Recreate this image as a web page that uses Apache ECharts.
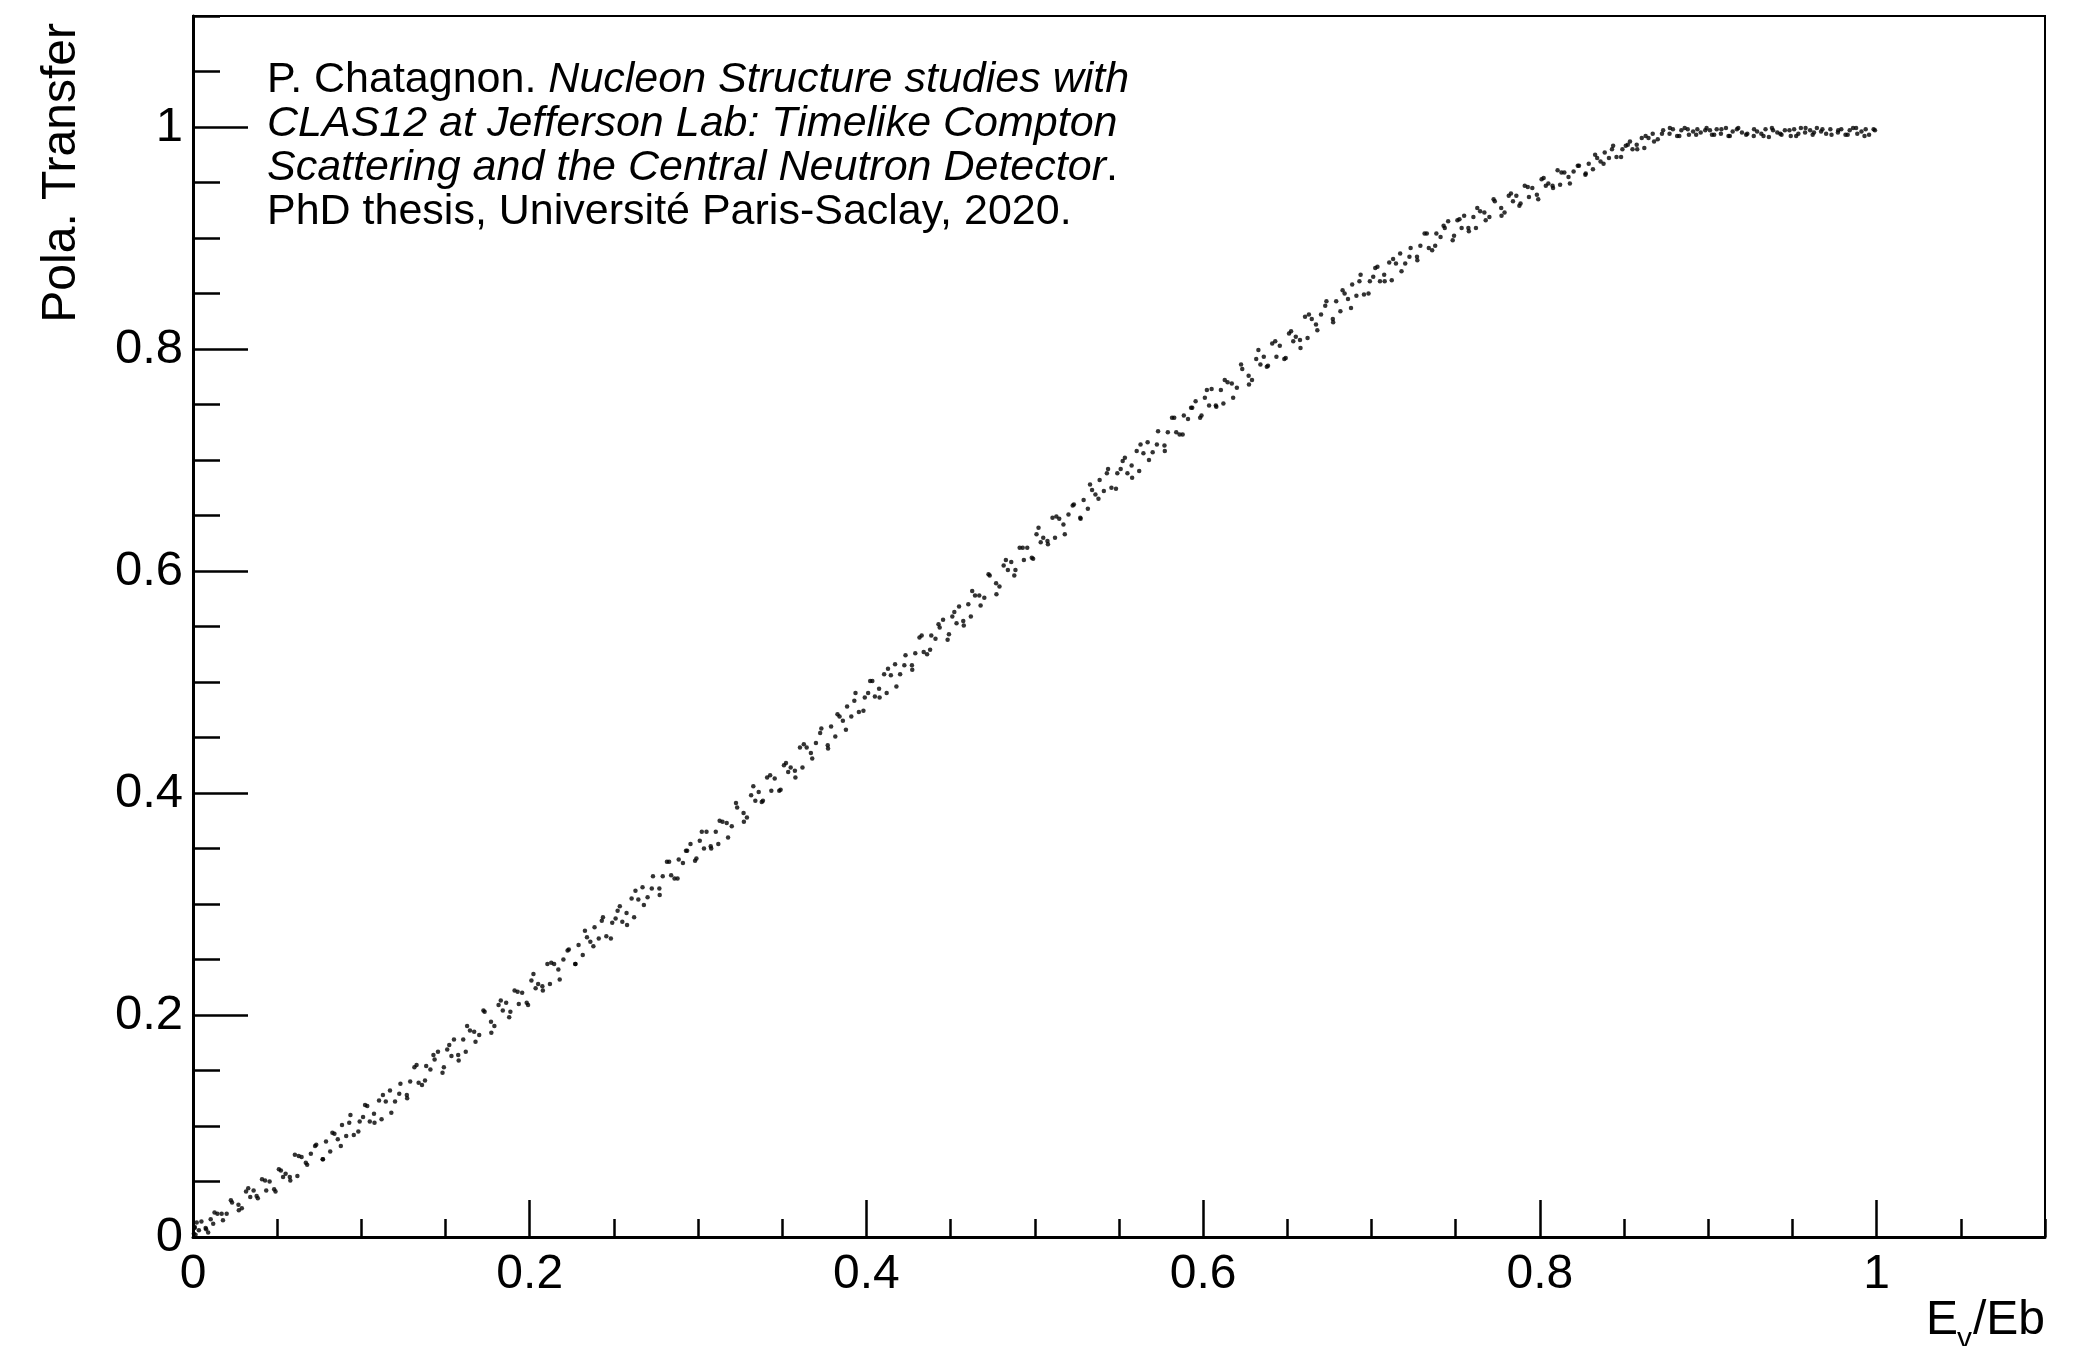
<!DOCTYPE html>
<html>
<head>
<meta charset="utf-8">
<title>Pola. Transfer vs Eγ/Eb</title>
<script src="https://cdn.jsdelivr.net/npm/echarts@6/dist/echarts.min.js"></script>
<style>
  html, body { margin: 0; padding: 0; background: #ffffff; }
  #chart { width: 2075px; height: 1346px; }
</style>
</head>
<body>
<div id="chart"></div>
<script>
// Photon energy fraction E_gamma / E_beam, first event sample
const ePhotonRatio = [
  0.0005, 0.001, 0.0015, 0.009,
  0.001, 0.0035, 0.005, 0.0075, 0.0105, 0.012, 0.0145, 0.017, 0.02, 0.0225,
  0.027, 0.029, 0.0315, 0.034, 0.036, 0.0385, 0.041, 0.0435, 0.0455, 0.049,
  0.051, 0.0535, 0.055, 0.0575, 0.0605, 0.062, 0.0645, 0.067, 0.07, 0.0725,
  0.077, 0.079, 0.0815, 0.084, 0.086, 0.0885, 0.091, 0.0935, 0.0955, 0.099,
  0.101, 0.1035, 0.105, 0.1075, 0.1105, 0.112, 0.1145, 0.117, 0.12, 0.1225,
  0.127, 0.129, 0.1315, 0.134, 0.136, 0.1385, 0.141, 0.1435, 0.1455, 0.149,
  0.151, 0.1535, 0.155, 0.1575, 0.1605, 0.162, 0.1645, 0.167, 0.17, 0.1725,
  0.177, 0.179, 0.1815, 0.184, 0.186, 0.1885, 0.191, 0.1935, 0.1955, 0.199,
  0.201, 0.2035, 0.205, 0.2075, 0.2105, 0.212, 0.2145, 0.217, 0.22, 0.2225,
  0.227, 0.229, 0.2315, 0.234, 0.236, 0.2385, 0.241, 0.2435, 0.2455, 0.249,
  0.251, 0.2535, 0.255, 0.2575, 0.2605, 0.262, 0.2645, 0.267, 0.27, 0.2725,
  0.277, 0.279, 0.2815, 0.284, 0.286, 0.2885, 0.291, 0.2935, 0.2955, 0.299,
  0.301, 0.3035, 0.305, 0.3075, 0.3105, 0.312, 0.3145, 0.317, 0.32, 0.3225,
  0.327, 0.329, 0.3315, 0.334, 0.336, 0.3385, 0.341, 0.3435, 0.3455, 0.349,
  0.351, 0.3535, 0.355, 0.3575, 0.3605, 0.362, 0.3645, 0.367, 0.37, 0.3725,
  0.377, 0.379, 0.3815, 0.384, 0.386, 0.3885, 0.391, 0.3935, 0.3955, 0.399,
  0.401, 0.4035, 0.405, 0.4075, 0.4105, 0.412, 0.4145, 0.417, 0.42, 0.4225,
  0.427, 0.429, 0.4315, 0.434, 0.436, 0.4385, 0.441, 0.4435, 0.4455, 0.449,
  0.451, 0.4535, 0.455, 0.4575, 0.4605, 0.462, 0.4645, 0.467, 0.47, 0.4725,
  0.477, 0.479, 0.4815, 0.484, 0.486, 0.4885, 0.491, 0.4935, 0.4955, 0.499,
  0.501, 0.5035, 0.505, 0.5075, 0.5105, 0.512, 0.5145, 0.517, 0.52, 0.5225,
  0.527, 0.529, 0.5315, 0.534, 0.536, 0.5385, 0.541, 0.5435, 0.5455, 0.549,
  0.551, 0.5535, 0.555, 0.5575, 0.5605, 0.562, 0.5645, 0.567, 0.57, 0.5725,
  0.577, 0.579, 0.5815, 0.584, 0.586, 0.5885, 0.591, 0.5935, 0.5955, 0.599,
  0.601, 0.6035, 0.605, 0.6075, 0.6105, 0.612, 0.6145, 0.617, 0.62, 0.6225,
  0.627, 0.629, 0.6315, 0.634, 0.636, 0.6385, 0.641, 0.6435, 0.6455, 0.649,
  0.651, 0.6535, 0.655, 0.6575, 0.6605, 0.662, 0.6645, 0.667, 0.67, 0.6725,
  0.677, 0.679, 0.6815, 0.684, 0.686, 0.6885, 0.691, 0.6935, 0.6955, 0.699,
  0.701, 0.7035, 0.705, 0.7075, 0.7105, 0.712, 0.7145, 0.717, 0.72, 0.7225,
  0.727, 0.729, 0.7315, 0.734, 0.736, 0.7385, 0.741, 0.7435, 0.7455, 0.749,
  0.751, 0.7535, 0.755, 0.7575, 0.7605, 0.762, 0.7645, 0.767, 0.77, 0.7725,
  0.777, 0.779, 0.7815, 0.784, 0.786, 0.7885, 0.791, 0.7935, 0.7955, 0.799,
  0.801, 0.8035, 0.805, 0.8075, 0.8105, 0.812, 0.8145, 0.817, 0.82, 0.8225,
  0.827, 0.829, 0.8315, 0.834, 0.836, 0.8385, 0.841, 0.8435, 0.8455, 0.849,
  0.851, 0.8535, 0.855, 0.8575, 0.8605, 0.862, 0.8645, 0.867, 0.87, 0.8725,
  0.877, 0.879, 0.8815, 0.884, 0.886, 0.8885, 0.891, 0.8935, 0.8955, 0.899,
  0.901, 0.9035, 0.905, 0.9075, 0.9105, 0.912, 0.9145, 0.917, 0.92, 0.9225,
  0.927, 0.929, 0.9315, 0.934, 0.936, 0.9385, 0.941, 0.9435, 0.9455, 0.949,
  0.951, 0.9535, 0.955, 0.9575, 0.9605, 0.962, 0.9645, 0.967, 0.97, 0.9725,
  0.977, 0.979, 0.9815, 0.984, 0.986, 0.9885, 0.991, 0.9935, 0.9955, 0.999
];

// Polarization transfer, first event sample
const polTransfer = [
  0.003, 0.008, 0.002, 0.004,
  0.009, 0.006, 0.014, 0.008, 0.016, 0.012, 0.021, 0.021, 0.021, 0.033,
  0.029, 0.026, 0.041, 0.036, 0.042, 0.035, 0.052, 0.042, 0.050, 0.041,
  0.061, 0.054, 0.057, 0.054, 0.074, 0.055, 0.072, 0.067, 0.075, 0.082,
  0.070, 0.086, 0.077, 0.093, 0.088, 0.101, 0.091, 0.110, 0.092, 0.104,
  0.108, 0.118, 0.104, 0.111, 0.123, 0.106, 0.122, 0.132, 0.122, 0.129,
  0.128, 0.140, 0.153, 0.139, 0.137, 0.154, 0.151, 0.160, 0.167, 0.153,
  0.169, 0.163, 0.178, 0.164, 0.178, 0.167, 0.186, 0.185, 0.182, 0.204,
  0.194, 0.190, 0.209, 0.204, 0.211, 0.203, 0.222, 0.210, 0.220, 0.209,
  0.231, 0.224, 0.228, 0.226, 0.246, 0.228, 0.246, 0.241, 0.250, 0.258,
  0.246, 0.263, 0.254, 0.270, 0.266, 0.279, 0.269, 0.288, 0.271, 0.283,
  0.287, 0.298, 0.284, 0.292, 0.305, 0.288, 0.304, 0.315, 0.306, 0.314,
  0.314, 0.325, 0.338, 0.326, 0.323, 0.340, 0.337, 0.348, 0.354, 0.341,
  0.357, 0.350, 0.365, 0.352, 0.365, 0.354, 0.374, 0.373, 0.370, 0.391,
  0.382, 0.378, 0.398, 0.393, 0.401, 0.393, 0.414, 0.402, 0.413, 0.403,
  0.425, 0.419, 0.423, 0.420, 0.441, 0.423, 0.441, 0.436, 0.445, 0.454,
  0.443, 0.460, 0.451, 0.469, 0.465, 0.478, 0.469, 0.490, 0.473, 0.486,
  0.490, 0.501, 0.487, 0.494, 0.507, 0.490, 0.506, 0.516, 0.507, 0.515,
  0.515, 0.526, 0.540, 0.527, 0.525, 0.542, 0.539, 0.549, 0.556, 0.543,
  0.559, 0.553, 0.568, 0.555, 0.570, 0.559, 0.578, 0.578, 0.576, 0.597,
  0.589, 0.586, 0.605, 0.601, 0.608, 0.601, 0.621, 0.610, 0.621, 0.611,
  0.633, 0.626, 0.630, 0.627, 0.648, 0.630, 0.647, 0.642, 0.651, 0.659,
  0.648, 0.664, 0.656, 0.673, 0.669, 0.682, 0.672, 0.692, 0.675, 0.688,
  0.692, 0.702, 0.688, 0.695, 0.708, 0.690, 0.706, 0.716, 0.707, 0.714,
  0.713, 0.725, 0.738, 0.725, 0.723, 0.740, 0.737, 0.747, 0.753, 0.740,
  0.756, 0.749, 0.764, 0.749, 0.763, 0.751, 0.770, 0.769, 0.765, 0.786,
  0.776, 0.772, 0.791, 0.786, 0.793, 0.785, 0.805, 0.793, 0.803, 0.792,
  0.814, 0.807, 0.811, 0.808, 0.829, 0.810, 0.827, 0.822, 0.831, 0.839,
  0.827, 0.843, 0.834, 0.850, 0.845, 0.858, 0.848, 0.867, 0.849, 0.861,
  0.865, 0.874, 0.861, 0.867, 0.878, 0.862, 0.877, 0.886, 0.877, 0.883,
  0.883, 0.893, 0.904, 0.891, 0.889, 0.904, 0.901, 0.909, 0.915, 0.902,
  0.916, 0.909, 0.920, 0.909, 0.919, 0.909, 0.924, 0.923, 0.919, 0.935,
  0.927, 0.923, 0.938, 0.933, 0.938, 0.931, 0.947, 0.937, 0.945, 0.935,
  0.953, 0.947, 0.949, 0.947, 0.961, 0.948, 0.959, 0.955, 0.960, 0.965,
  0.957, 0.967, 0.962, 0.972, 0.969, 0.977, 0.972, 0.983, 0.973, 0.980,
  0.983, 0.987, 0.980, 0.984, 0.990, 0.981, 0.990, 0.994, 0.989, 0.994,
  0.994, 0.998, 0.992, 0.997, 0.999, 0.993, 0.996, 0.998, 0.995, 0.999,
  0.997, 0.993, 0.998, 0.994, 0.999, 0.992, 0.996, 0.998, 0.995, 0.993,
  0.992, 0.996, 0.994, 0.998, 0.991, 0.997, 0.995, 0.993, 0.997, 0.992,
  0.998, 0.994, 0.999, 0.995, 0.997, 0.993, 0.999, 0.996, 0.994, 0.998,
  0.995, 0.998, 0.993, 0.997, 0.999, 0.994, 0.996, 0.998, 0.993, 0.997
];

// Second event sample (wider spread around the band)
const ePhotonRatio2 = [
  0.0022, 0.0078, 0.0128, 0.0178, 0.0232, 0.0272, 0.0328, 0.0378, 0.0428, 0.0482,
  0.0522, 0.0578, 0.0628, 0.0678, 0.0732, 0.0772, 0.0828, 0.0878, 0.0928, 0.0982,
  0.1022, 0.1078, 0.1128, 0.1178, 0.1232, 0.1272, 0.1328, 0.1378, 0.1428, 0.1482,
  0.1522, 0.1578, 0.1628, 0.1678, 0.1732, 0.1772, 0.1828, 0.1878, 0.1928, 0.1982,
  0.2022, 0.2078, 0.2128, 0.2178, 0.2232, 0.2272, 0.2328, 0.2378, 0.2428, 0.2482,
  0.2522, 0.2578, 0.2628, 0.2678, 0.2732, 0.2772, 0.2828, 0.2878, 0.2928, 0.2982,
  0.3022, 0.3078, 0.3128, 0.3178, 0.3232, 0.3272, 0.3328, 0.3378, 0.3428, 0.3482,
  0.3522, 0.3578, 0.3628, 0.3678, 0.3732, 0.3772, 0.3828, 0.3878, 0.3928, 0.3982,
  0.4022, 0.4078, 0.4128, 0.4178, 0.4232, 0.4272, 0.4328, 0.4378, 0.4428, 0.4482,
  0.4522, 0.4578, 0.4628, 0.4678, 0.4732, 0.4772, 0.4828, 0.4878, 0.4928, 0.4982,
  0.5022, 0.5078, 0.5128, 0.5178, 0.5232, 0.5272, 0.5328, 0.5378, 0.5428, 0.5482,
  0.5522, 0.5578, 0.5628, 0.5678, 0.5732, 0.5772, 0.5828, 0.5878, 0.5928, 0.5982,
  0.6022, 0.6078, 0.6128, 0.6178, 0.6232, 0.6272, 0.6328, 0.6378, 0.6428, 0.6482,
  0.6522, 0.6578, 0.6628, 0.6678, 0.6732, 0.6772, 0.6828, 0.6878, 0.6928, 0.6982,
  0.7022, 0.7078, 0.7128, 0.7178, 0.7232, 0.7272, 0.7328, 0.7378, 0.7428, 0.7482,
  0.7522, 0.7578, 0.7628, 0.7678, 0.7732, 0.7772, 0.7828, 0.7878, 0.7928, 0.7982,
  0.8022, 0.8078, 0.8128, 0.8178, 0.8232, 0.8272, 0.8328, 0.8378, 0.8428, 0.8482,
  0.8522, 0.8578, 0.8628, 0.8678, 0.8732, 0.8772, 0.8828, 0.8878, 0.8928, 0.8982,
  0.9022, 0.9078, 0.9128, 0.9178, 0.9232, 0.9272, 0.9328, 0.9378, 0.9428, 0.9482,
  0.9522, 0.9578, 0.9628, 0.9678, 0.9732, 0.9772, 0.9828, 0.9878, 0.9928, 0.9982
];

const polTransfer2 = [
  0.013, 0.007, 0.022, 0.015, 0.031, 0.024, 0.044, 0.037, 0.051, 0.043,
  0.060, 0.051, 0.073, 0.065, 0.083, 0.070, 0.094, 0.082, 0.103, 0.095,
  0.119, 0.103, 0.128, 0.112, 0.138, 0.125, 0.155, 0.141, 0.164, 0.148,
  0.173, 0.159, 0.190, 0.176, 0.203, 0.184, 0.213, 0.198, 0.221, 0.211,
  0.237, 0.222, 0.247, 0.232, 0.259, 0.246, 0.276, 0.262, 0.285, 0.269,
  0.294, 0.281, 0.312, 0.299, 0.325, 0.308, 0.338, 0.323, 0.348, 0.339,
  0.365, 0.350, 0.375, 0.360, 0.387, 0.374, 0.406, 0.392, 0.416, 0.402,
  0.427, 0.414, 0.444, 0.431, 0.458, 0.440, 0.471, 0.457, 0.483, 0.474,
  0.501, 0.486, 0.512, 0.496, 0.524, 0.511, 0.542, 0.529, 0.552, 0.538,
  0.563, 0.551, 0.582, 0.569, 0.596, 0.579, 0.610, 0.596, 0.621, 0.612,
  0.639, 0.624, 0.649, 0.633, 0.660, 0.647, 0.678, 0.665, 0.688, 0.674,
  0.699, 0.684, 0.714, 0.700, 0.726, 0.708, 0.738, 0.723, 0.747, 0.738,
  0.763, 0.748, 0.772, 0.756, 0.782, 0.768, 0.799, 0.784, 0.807, 0.791,
  0.816, 0.801, 0.831, 0.817, 0.843, 0.824, 0.853, 0.837, 0.861, 0.850,
  0.873, 0.861, 0.881, 0.870, 0.891, 0.880, 0.904, 0.893, 0.911, 0.898,
  0.917, 0.906, 0.927, 0.916, 0.933, 0.920, 0.940, 0.929, 0.946, 0.939,
  0.954, 0.945, 0.959, 0.949, 0.965, 0.958, 0.975, 0.967, 0.980, 0.973,
  0.984, 0.980, 0.992, 0.987, 0.997, 0.999, 0.992, 0.998, 0.993, 0.997,
  0.993, 0.998, 0.992, 0.999, 0.994, 0.998, 0.992, 0.999, 0.994, 0.997,
  0.992, 0.999, 0.995, 0.998, 0.993, 0.997, 0.993, 0.999, 0.992, 0.998
];

// Major tick values and their printed labels
const xTickValues = [0, 0.2, 0.4, 0.6, 0.8, 1.0];
const xTickLabels = ['0', '0.2', '0.4', '0.6', '0.8', '1'];
const yTickValues = [0, 0.2, 0.4, 0.6, 0.8, 1.0];
const yTickLabels = ['0', '0.2', '0.4', '0.6', '0.8', '1'];

const points = ePhotonRatio.map((x, i) => [x, polTransfer[i]])
  .concat(ePhotonRatio2.map((x, i) => [x, polTransfer2[i]]));

const FONT = 'Liberation Sans, Arial, Helvetica, sans-serif';
const plotBox = { left: 193, right: 30, top: 16, bottom: 109 };

function majorLabel(values, labels) {
  return function (v) {
    const i = values.findIndex(t => Math.abs(t - v) < 1e-6);
    return i < 0 ? '' : labels[i];
  };
}

const chart = echarts.init(document.getElementById('chart'), null, {
  renderer: 'canvas', width: 2075, height: 1346
});

const tickLine = { color: '#000', width: 2.5 };
const citeNormal = { fontSize: 43, fontFamily: FONT, fill: '#000' };
const citeItalic = { fontSize: 43, fontFamily: FONT, fontStyle: 'italic', fill: '#000' };

chart.setOption({
  animation: false,
  backgroundColor: '#ffffff',
  grid: [
    Object.assign({ show: true, borderColor: '#000', borderWidth: 2, backgroundColor: 'transparent' }, plotBox),
    Object.assign({ show: false }, plotBox)
  ],
  xAxis: [
    {
      type: 'value', gridIndex: 0, min: 0, max: 1.1, interval: 0.2, position: 'bottom',
      axisLine: { show: true, onZero: false, lineStyle: { color: '#000', width: 3 } },
      axisTick: { show: true, inside: true, length: 37, lineStyle: tickLine },
      axisLabel: {
        show: true, margin: 14, color: '#000', fontSize: 48, fontFamily: FONT,
        showMaxLabel: false, formatter: majorLabel(xTickValues, xTickLabels)
      },
      splitLine: { show: false }
    },
    {
      type: 'value', gridIndex: 1, min: 0, max: 1.1, interval: 0.05, position: 'bottom',
      axisLine: { show: false, onZero: false },
      axisTick: { show: true, inside: true, length: 18, lineStyle: tickLine },
      axisLabel: { show: false },
      splitLine: { show: false }
    }
  ],
  yAxis: [
    {
      type: 'value', gridIndex: 0, min: 0, max: 1.1, interval: 0.2, position: 'left',
      axisLine: { show: true, onZero: false, lineStyle: { color: '#000', width: 3 } },
      axisTick: { show: true, inside: true, length: 55, lineStyle: tickLine },
      axisLabel: {
        show: true, margin: 10, color: '#000', fontSize: 49, fontFamily: FONT,
        showMaxLabel: false, formatter: majorLabel(yTickValues, yTickLabels)
      },
      splitLine: { show: false }
    },
    {
      type: 'value', gridIndex: 1, min: 0, max: 1.1, interval: 0.05, position: 'left',
      axisLine: { show: false, onZero: false },
      axisTick: { show: true, inside: true, length: 27, lineStyle: tickLine },
      axisLabel: { show: false },
      splitLine: { show: false }
    }
  ],
  series: [{
    type: 'scatter',
    xAxisIndex: 0,
    yAxisIndex: 0,
    data: points,
    symbol: 'circle',
    symbolSize: 4.5,
    itemStyle: { color: '#000' },
    silent: true
  }],
  graphic: [
    // y-axis title, right-adjusted at the top of the axis
    {
      type: 'text', x: 62, y: 23, rotation: Math.PI / 2,
      style: { text: 'Pola. Transfer', fill: '#000', fontSize: 48, fontFamily: FONT, align: 'right', verticalAlign: 'middle' }
    },
    // x-axis title E_gamma/Eb, right-adjusted at the end of the axis
    {
      type: 'text', x: 1958, y: 1321,
      style: { text: 'E', fill: '#000', fontSize: 48, fontFamily: FONT, align: 'right', verticalAlign: 'middle' }
    },
    {
      type: 'text', x: 1957, y: 1340,
      style: { text: 'γ', fill: '#000', fontSize: 30, fontFamily: FONT, align: 'left', verticalAlign: 'middle' }
    },
    {
      type: 'text', x: 1973, y: 1321,
      style: { text: '/Eb', fill: '#000', fontSize: 48, fontFamily: FONT, align: 'left', verticalAlign: 'middle' }
    },
    // citation block
    {
      type: 'text', x: 267, y: 80,
      style: {
        text: '{n|P. Chatagnon. }{i|Nucleon Structure studies with}',
        verticalAlign: 'middle', align: 'left',
        rich: { n: citeNormal, i: citeItalic }
      }
    },
    {
      type: 'text', x: 267, y: 124,
      style: {
        text: '{i|CLAS12 at Jefferson Lab: Timelike Compton}',
        verticalAlign: 'middle', align: 'left',
        rich: { i: citeItalic }
      }
    },
    {
      type: 'text', x: 267, y: 168,
      style: {
        text: '{i|Scattering and the Central Neutron Detector}{n|.}',
        verticalAlign: 'middle', align: 'left',
        rich: { n: citeNormal, i: citeItalic }
      }
    },
    {
      type: 'text', x: 267, y: 212,
      style: {
        text: 'PhD thesis, Université Paris-Saclay, 2020.',
        fill: '#000', fontSize: 43, fontFamily: FONT, align: 'left', verticalAlign: 'middle'
      }
    }
  ]
});
</script>
</body>
</html>
